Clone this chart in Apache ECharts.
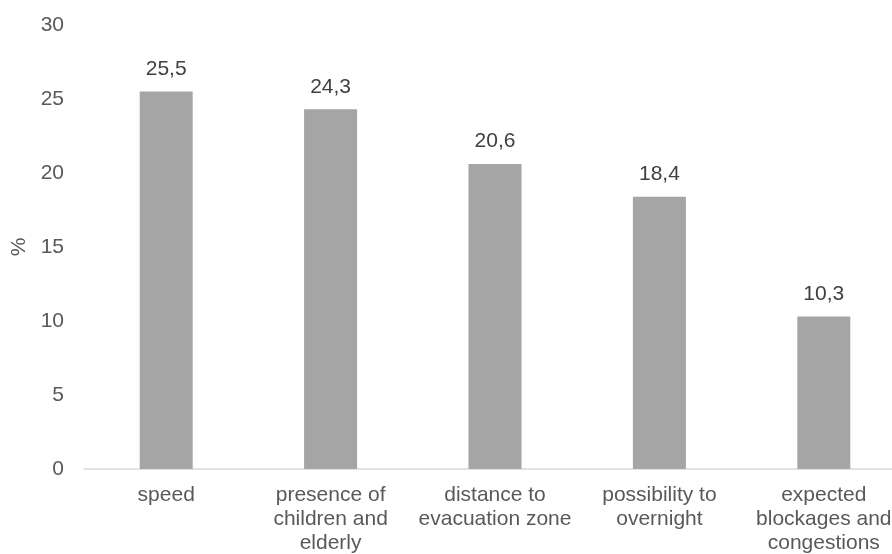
<!DOCTYPE html>
<html>
<head>
<meta charset="utf-8">
<script src="https://cdn.jsdelivr.net/npm/echarts@6/dist/echarts.min.js"></script>
<style>
  html, body { margin: 0; padding: 0; background: #fff; overflow: hidden; }
  #chart { width: 892px; height: 554px; }
</style>
</head>
<body>
<div id="chart"></div>
<script>
// Reasons for choosing an evacuation option (share of respondents, %)
const categories = [
  'speed',
  'presence of\nchildren and\nelderly',
  'distance to\nevacuation zone',
  'possibility to\novernight',
  'expected\nblockages and\ncongestions'
];
const shares = [25.5, 24.3, 20.6, 18.4, 10.3];
const yTicks = { min: 0, max: 30, step: 5 };

const textColor = '#595959';
const font = 'Liberation Sans, Arial, sans-serif';
const fontSize = 21;

const chart = echarts.init(document.getElementById('chart'), null, { renderer: 'canvas' });
chart.setOption({
  animation: false,
  // the plot runs a little past the right edge of the canvas
  grid: {
    left: 84, top: 25, width: 822, height: 444,
    containLabel: false, outerBoundsMode: 'none'
  },
  xAxis: {
    type: 'category',
    data: categories,
    axisLine: { lineStyle: { color: '#d9d9d9', width: 1.5 } },
    axisTick: { show: false },
    axisLabel: {
      color: textColor, fontFamily: font, fontSize: fontSize,
      lineHeight: 24, margin: 14, interval: 0
    }
  },
  yAxis: {
    type: 'value',
    min: yTicks.min, max: yTicks.max, interval: yTicks.step,
    name: '%',
    nameLocation: 'middle',
    nameGap: 52,
    nameRotate: 90,
    nameTextStyle: { color: textColor, fontFamily: font, fontSize: fontSize },
    axisLine: { show: false },
    axisTick: { show: false },
    splitLine: { show: false },
    axisLabel: { color: textColor, fontFamily: font, fontSize: fontSize, margin: 20 }
  },
  series: [{
    type: 'bar',
    data: shares,
    barWidth: 53,
    itemStyle: { color: '#a5a5a5' },
    label: {
      show: true,
      position: 'top',
      distance: 12,
      color: '#404040',
      fontFamily: font,
      fontSize: fontSize,
      formatter: p => String(p.value).replace('.', ',')
    }
  }]
});
</script>
</body>
</html>
